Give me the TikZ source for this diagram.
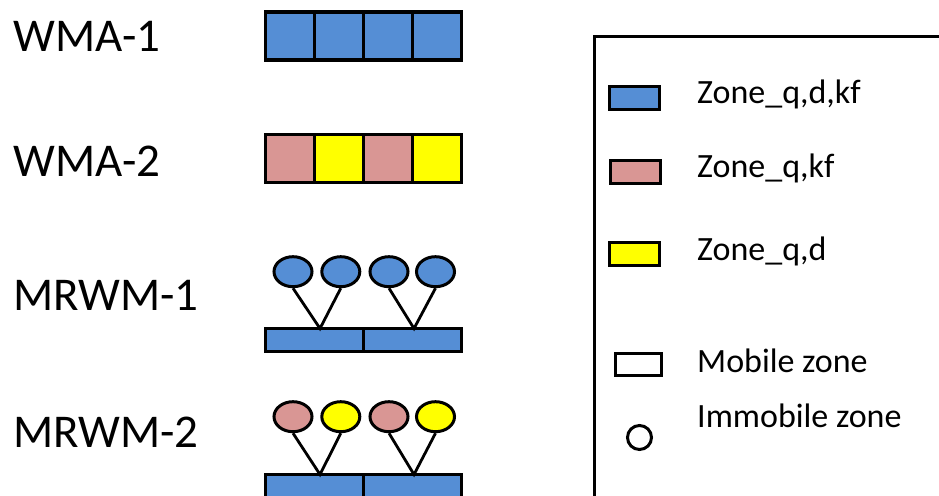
\documentclass[tikz,border=0pt]{standalone}
\usepackage{fontspec}
\setmainfont{Carlito}
\usetikzlibrary{shapes.geometric}

\definecolor{zqdkf}{HTML}{558ED5}
\definecolor{zqkf}{HTML}{D99694}
\definecolor{zqd}{HTML}{FFFF00}

\tikzset{
  outline/.style={draw=black, line width=3.4pt},
  cell/.style={outline, rectangle, inner sep=0pt, minimum width=49pt, minimum height=48pt},
  barcell/.style={outline, rectangle, inner sep=0pt, minimum width=98pt, minimum height=23pt, fill=zqdkf},
  immob/.style={outline, line width=3pt, ellipse, inner sep=0pt, minimum width=38pt, minimum height=30pt},
  link/.style={draw=black, line width=2.8pt},
  rowlabel/.style={anchor=base west, inner sep=0pt, font=\fontsize{47}{52}\selectfont},
  keylabel/.style={anchor=base west, inner sep=0pt, font=\fontsize{34}{40}\selectfont},
  keybox/.style={outline, rectangle, inner sep=0pt, minimum width=50pt, minimum height=23pt}
}

\begin{document}
\begin{tikzpicture}[x=1pt, y=-1pt]
\useasboundingbox (0,0) rectangle (939,495);
\clip (0,0) rectangle (939,495);

% row labels
\node[rowlabel] (lw1) at (13,52) {WMA-1};
\node[rowlabel] (lw2) at (13,176) {WMA-2};
\node[rowlabel] (lm1) at (13,310) {MRWM-1};
\node[rowlabel] (lm2) at (13,447) {MRWM-2};

% WMA-1: four mobile cells
\node[cell, fill=zqdkf] (a1) at (290,36) {};
\node[cell, fill=zqdkf] (a2) at (339,36) {};
\node[cell, fill=zqdkf] (a3) at (388,36) {};
\node[cell, fill=zqdkf] (a4) at (437,36) {};

% WMA-2: alternating cells
\node[cell, fill=zqkf] (b1) at (290,158.5) {};
\node[cell, fill=zqd]  (b2) at (339,158.5) {};
\node[cell, fill=zqkf] (b3) at (388,158.5) {};
\node[cell, fill=zqd]  (b4) at (437,158.5) {};

% MRWM-1: mobile bar with immobile zones above
\node[barcell] (c1) at (314.5,340) {};
\node[barcell] (c2) at (412.5,340) {};
\node[immob, fill=zqdkf] (ce1) at (293,271.7) {};
\node[immob, fill=zqdkf] (ce2) at (340.8,271.7) {};
\node[immob, fill=zqdkf] (ce3) at (389,271.7) {};
\node[immob, fill=zqdkf] (ce4) at (435.5,271.7) {};
\coordinate (cj1) at (320,328.5);
\coordinate (cj2) at (414,328.5);
\draw[link] (ce1.south) -- (cj1) -- (ce2.south);
\draw[link] (ce3.south) -- (cj2) -- (ce4.south);

% MRWM-2: mobile bar with mixed immobile zones
\node[barcell] (d1) at (314.5,486) {};
\node[barcell] (d2) at (412.5,486) {};
\node[immob, fill=zqkf] (de1) at (293,416.7) {};
\node[immob, fill=zqd]  (de2) at (340.8,416.7) {};
\node[immob, fill=zqkf] (de3) at (389,416.7) {};
\node[immob, fill=zqd]  (de4) at (435.5,416.7) {};
\coordinate (dj1) at (320,474.5);
\coordinate (dj2) at (414,474.5);
\draw[link] (de1.south) -- (dj1) -- (de2.south);
\draw[link] (de3.south) -- (dj2) -- (de4.south);

% legend frame
\draw[outline] (594.5,36.5) rectangle (980,540);

% legend entries
\node[keybox, fill=zqdkf] (k1) at (634.5,98) {};
\node[keylabel] (t1) at (697,103) {Zone\_q,d,kf};
\node[keybox, fill=zqkf] (k2) at (635.5,172) {};
\node[keylabel] (t2) at (697,177) {Zone\_q,kf};
\node[keybox, fill=zqd] (k3) at (634.5,254) {};
\node[keylabel] (t3) at (697,260) {Zone\_q,d};
\node[keybox, minimum width=46pt, minimum height=22pt] (k4) at (638.5,364.5) {};
\node[keylabel] (t4) at (697,372) {Mobile zone};
\node[outline, line width=3pt, circle, inner sep=0pt, minimum size=24pt] (k5) at (639.5,437.5) {};
\node[keylabel] (t5) at (697,427) {Immobile zone};
\end{tikzpicture}
\end{document}
